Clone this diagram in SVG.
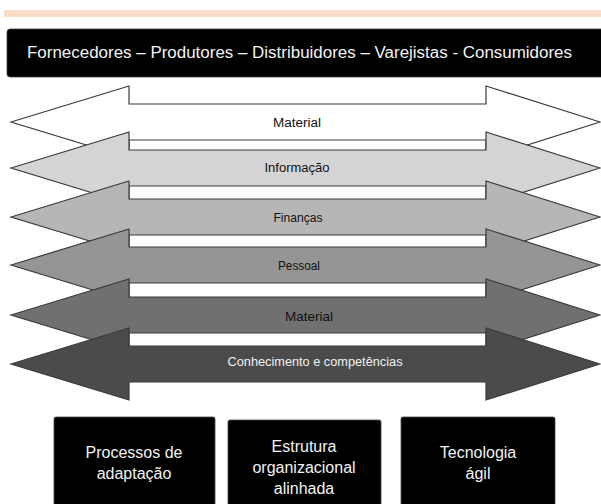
<svg xmlns="http://www.w3.org/2000/svg" xmlns:xlink="http://www.w3.org/1999/xlink" width="601" height="504" viewBox="0 0 601 504">
  <style>
    .arrow { stroke: #3a3a3a; stroke-width: 1.2; stroke-linejoin: miter; }
    .lbl { font-family: "Liberation Sans", Arial, sans-serif; font-size: 12.5px; text-anchor: middle; fill: #111; }
    .box { fill: #000; stroke: #444; stroke-width: 0.8; }
    .btxt { font-family: "Liberation Sans", Arial, sans-serif; font-size: 16px; text-anchor: middle; fill: #f2f2f2; }
    .htxt { font-family: "Liberation Sans", Arial, sans-serif; font-size: 16px; fill: #f2f2f2; }
  </style>
  <defs>
    <path id="dbl" d="M11,0 L129,-36 L129,-18 L486,-18 L486,-36 L600,0 L486,36 L486,18 L129,18 L129,36 Z"/>
  </defs>
  <rect width="601" height="504" fill="#ffffff"/>
  <rect x="4" y="10" width="597" height="7" fill="#fbdcc9"/>

  <g id="header">
    <rect x="7" y="29" width="600" height="48" rx="3" class="box"/>
    <text x="27" y="58" class="htxt" textLength="545" lengthAdjust="spacingAndGlyphs">Fornecedores – Produtores  – Distribuidores – Varejistas - Consumidores</text>
  </g>

  <g id="connectors">
    <g id="arrow-material-1">
      <use xlink:href="#dbl" y="122" class="arrow" fill="#ffffff"/>
      <text x="297" y="127" class="lbl" textLength="48" lengthAdjust="spacingAndGlyphs">Material</text>
    </g>
    <g id="arrow-informacao">
      <use xlink:href="#dbl" y="168" class="arrow" fill="#d4d4d4"/>
      <text x="297" y="172" class="lbl" textLength="65" lengthAdjust="spacingAndGlyphs">Informação</text>
    </g>
    <g id="arrow-financas">
      <use xlink:href="#dbl" y="217" class="arrow" fill="#b6b6b6"/>
      <text x="298" y="222" class="lbl" textLength="49" lengthAdjust="spacingAndGlyphs">Finanças</text>
    </g>
    <g id="arrow-pessoal">
      <use xlink:href="#dbl" y="265" class="arrow" fill="#959595"/>
      <text x="299" y="270" class="lbl" textLength="42" lengthAdjust="spacingAndGlyphs">Pessoal</text>
    </g>
    <g id="arrow-material-2">
      <use xlink:href="#dbl" y="315" class="arrow" fill="#707070"/>
      <text x="309" y="321" class="lbl" textLength="48" lengthAdjust="spacingAndGlyphs">Material</text>
    </g>
    <g id="arrow-conhecimento">
      <use xlink:href="#dbl" y="364" class="arrow" fill="#4b4b4b"/>
      <text x="315" y="366" class="lbl" fill="#f0f0f0" style="fill:#f0f0f0" textLength="175" lengthAdjust="spacingAndGlyphs">Conhecimento e competências</text>
    </g>
  </g>

  <g id="box-processos">
    <rect x="54" y="417" width="161" height="100" rx="2" class="box"/>
    <text x="134" y="458" class="btxt">Processos de</text>
    <text x="134" y="479" class="btxt">adaptação</text>
  </g>
  <g id="box-estrutura">
    <rect x="228" y="420" width="153" height="100" rx="2" class="box"/>
    <text x="304" y="452" class="btxt">Estrutura</text>
    <text x="304" y="473" class="btxt">organizacional</text>
    <text x="304" y="494" class="btxt">alinhada</text>
  </g>
  <g id="box-tecnologia">
    <rect x="401" y="417" width="154" height="100" rx="2" class="box"/>
    <text x="478" y="458" class="btxt">Tecnologia</text>
    <text x="478" y="479" class="btxt">ágil</text>
  </g>
</svg>
